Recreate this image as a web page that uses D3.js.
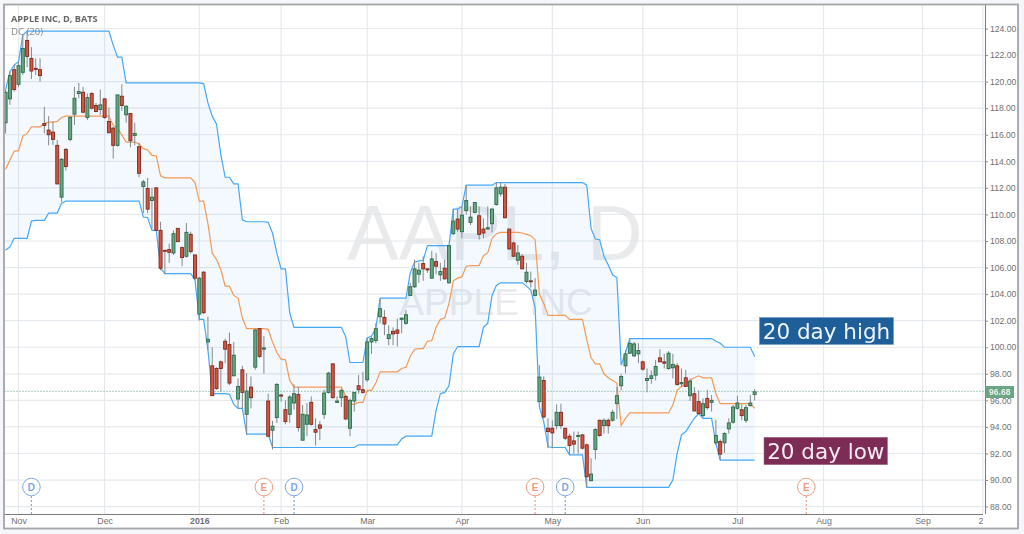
<!DOCTYPE html>
<html><head><meta charset="utf-8">
<script src="https://cdn.jsdelivr.net/npm/d3@7"></script>
<style>
html,body{margin:0;padding:0;background:#f4f6f9;overflow:hidden}
svg{display:block;filter:blur(0.4px)}
</style></head><body>
<svg id="c" width="1024" height="534"></svg>
<script>
const opens=[116.9,118.7,120.9,119.8,120.7,123.1,121.75,121,120.9,116.85,
116.35,116.2,115.2,111.3,114.9,115.65,117.55,119.1,119.2,117.3,
119.1,118.2,117.9,118.7,117,116.5,115.2,118.9,117.5,117.6,
115.95,115.1,112.1,111.95,111.05,112,108.8,107.3,107.35,107.1,
108.95,107.5,106.85,108.5,106.95,102.5,105.65,100.4,98.6,98.4,
98.9,100.45,100.2,97.85,96.1,98.3,94.95,97,98.5,101.4,
99.85,95.95,93.75,94.7,96.4,95.3,94.95,95.8,96.45,93,
94.2,95.85,93.8,94.15,94.95,96.6,98.75,95.85,96.2,96.3,
93.9,95.95,97.1,96.8,97.55,100.4,100.5,102.3,102.25,100.65,
101.2,101.3,102.1,101.8,103.9,104.55,105.5,106.3,105.9,105.2,
106.45,105.45,105.95,104.85,108.55,109.65,108.7,110.3,109.4,110.15,
109.9,108.9,108.9,109.3,110.75,111.55,112.05,108.9,107.85,106.55,
106.85,104.95,105,103.9,95.9,97.5,93.9,93.9,94.1,95.1,
93.9,93.3,92.95,93.3,93.4,92.65,89.95,92.3,94.5,94.1,
94.5,94.5,95.75,97.1,98.6,99.55,99.35,99.5,98.9,97.5,
97.65,97.9,99.2,98.9,98.4,98.45,98.6,97.25,97.7,96.35,
96.5,95.9,94.85,96.15,95.85,92.8,92.9,92.8,93.85,94.35,
95.4,95.3,94.5,95.6,96.45];
const closes=[119.2,120.45,119.4,121.2,122.5,121.9,120.8,120.95,120.45,116.7,
116,115.65,112.3,114.15,113.6,117.3,118.75,119.25,117.7,118.8,
118,117.75,118.25,117.3,116.15,115.2,119,118.2,118.15,115.55,
116.1,113.1,112.45,110.4,111.3,108.8,105.95,107.25,107.15,108.55,
107.95,106.75,108.65,107.2,105.2,105.2,102.6,100.6,96.35,96.9,
98.4,99.85,97.3,99.4,97.05,96.6,96.7,96.2,101.3,99.3,
99.95,93.3,94.05,97.2,96.35,94.4,96.25,96.5,93.95,94.95,
94.9,94.2,93.6,93.9,96.55,98.05,96.2,95.95,96.75,94.6,
96,96.6,96.8,96.6,100.4,100.65,101.4,102.9,101.75,100.95,
101,101.05,102.2,102.45,104.55,105.9,105.8,105.9,105.85,106.65,
106.1,105.7,105.15,107.65,109.5,108.9,109.95,111.05,109.8,110.9,
108.5,108.6,109,110.4,112,112.05,109.75,107.4,106.85,107.1,
105.9,105.65,104.98,104.3,97.75,94.75,93.65,93.55,95.1,94.1,
93.15,92.6,92.7,93.35,92.4,90.25,90.45,93.8,93.35,94.5,
94.1,95.1,96.35,97.8,99.5,100.3,100.25,99.75,98.35,97.65,
97.85,98.55,98.9,98.8,99.55,98.7,97.2,97.35,97.05,97.45,
95.2,95,95.75,95.45,96,93.35,91.95,93.5,94.3,95.5,
95.8,94.85,95.45,95.8,96.65];
const highs=[119.4,120.75,121.25,121.5,123.5,123.75,122.6,121.75,121.75,118.1,
117.4,117,115.6,114.25,115,117.4,119.6,119.9,119.6,119.1,
119.2,118.4,119.4,118.75,118.05,116.6,119,119.8,118.2,117.65,
116.9,115.4,112.6,112.75,112,112.05,109.45,107.3,107.8,108.8,
108.95,107.6,109.35,108.7,106.95,105.3,105.75,102.3,100,98.5,
99,100.65,101.1,100.4,97.65,98.6,98.05,97.8,101.4,101.4,
100.85,96.5,94.45,97.3,96.5,96,96.4,97.2,97,95.65,
95.8,96.3,94.65,94.45,96.8,98.15,98.75,96.3,96.9,96.4,
96.15,96.6,97.9,98.15,100.7,100.8,101.8,103.65,102.8,101.65,
101.5,102.15,102.2,102.8,104.85,106.6,106.35,106.85,105.95,107.25,
107.1,106.35,106.6,107.65,110.4,110.4,110.6,112.2,110.6,110.9,
110.6,109.7,110.6,110.5,112.4,112.4,112.3,108.9,107.95,107.7,
107,106.35,105.7,105.2,98.65,97.8,94.65,94.5,95.7,95.75,
93.9,93.5,93.65,93.65,93.45,92.75,91.65,93.9,94.55,94.65,
94.65,95.3,97,98,99.8,100.65,100.4,100.3,99,98.4,
98.25,99.05,99.85,99.5,99.7,99.5,98.8,98.4,98.3,97.65,
97,96.75,96.15,96.8,96.4,94.55,93.05,93.6,94.65,95.65,
96.35,95.7,95.65,96.4,96.85];
const lows=[116.1,118.25,119.25,119.6,120.5,121.1,120.2,120.5,120,116.1,
115.2,115.25,112.25,110.95,113.3,115.5,116.75,118.75,117.6,117.1,
117.9,117.7,117.5,117.2,116.1,114.2,115.1,117.8,116.9,115.05,
115.2,112.8,110.1,110.1,108.9,108.8,105.8,105.5,106.35,106.95,
107.95,106.1,106.75,107.05,105.05,102,102.5,99.8,96.35,96.8,
96.65,98.8,97.15,97.8,95.4,95.4,93.4,95.4,98.3,99.2,
98,93.3,92.3,94.3,95.9,94.2,94.3,95.3,93.65,93,
93.3,94.1,92.6,93,94.6,96.5,96.15,95.8,95.5,94.5,
93.3,95.15,96.5,96.5,97.4,99.5,100.3,101.8,100.9,100.15,
100.15,100.05,101.05,101.7,103.85,104.45,104.85,105,105.6,105.15,
105.5,105,105.1,104.8,108.45,108.7,108.2,110,109.2,110.1,
108.1,108.2,108.85,108.65,110.65,111.35,109.7,107.35,106.8,106.2,
105.9,104.8,104.5,103.85,95.9,94.65,92.4,92.4,93.8,93.85,
93,91.9,92,92,92.3,89.45,89.9,91.55,93.25,93.5,
93.5,94.4,94.6,96.75,98.05,99.5,99.25,98.8,98.25,96.6,
97.25,97.5,98.9,98.4,98.3,97.65,97.1,97,97,95.95,
95.2,94.95,94.7,95.3,95.15,92.65,91.5,92.05,93.5,94.25,
95.3,94.5,94.3,95.55,96];
const dcUpper=[119.4,120.75,121.25,121.5,123.5,123.8,123.8,123.8,123.8,123.8,
123.8,123.8,123.8,123.8,123.8,123.8,123.8,123.8,123.8,123.8,
123.8,123.8,123.8,123.8,123.8,122.75,121.85,121.85,119.9,119.9,
119.9,119.9,119.9,119.9,119.9,119.9,119.9,119.9,119.9,119.9,
119.9,119.9,119.9,119.9,119.9,119.9,119.85,118.4,117.4,116.8,
114.5,112.8,112.8,112.3,112.3,109.6,109.45,109.45,109.45,109.45,
109.45,109.4,108.6,107.1,105.9,105.9,102.6,101.5,101.5,101.5,
101.5,101.5,101.5,101.5,101.5,101.5,101.5,101.5,101.5,100.8,
98.85,98.85,98.85,98.85,100.7,100.85,101.4,103.7,103.7,103.7,
103.7,103.7,103.7,103.7,105.6,106.4,106.5,106.55,107.65,107.65,
107.65,107.65,107.65,107.65,110.4,110.4,110.6,112.2,112.2,112.2,
112.2,112.2,112.2,112.2,112.4,112.4,112.4,112.4,112.4,112.4,
112.4,112.4,112.4,112.4,112.4,112.4,112.4,112.4,112.4,112.4,
112.4,112.4,112.4,112.4,112.4,112.2,108.95,108.15,108.1,106.85,
106.2,105.45,105.25,98.65,99.6,100.65,100.65,100.65,100.65,100.65,
100.65,100.65,100.65,100.65,100.65,100.65,100.65,100.65,100.65,100.65,
100.65,100.65,100.65,100.65,100.65,100.45,100.3,100,100,100,
100,100,100,100,99.3];
const dcLower=[107.3,107.55,108.2,108.2,108.2,108.2,109.5,109.55,109.55,109.55,
110.1,110.1,110.1,110.85,111,111,111,111,111,111,
111,111,111,111,111,111,111,111,111,111,
111,111,109.8,109.75,108.8,108.8,105.95,105.55,105.55,105.55,
105.55,105.55,105.55,105.55,105.05,102.1,102.1,99.8,96.5,96.5,
96.5,96.5,96.45,95.7,95.4,95.4,93.45,93.45,93.45,93.45,
93.45,93.45,92.45,92.45,92.45,92.45,92.45,92.45,92.45,92.45,
92.45,92.45,92.45,92.45,92.45,92.45,92.45,92.45,92.45,92.45,
92.45,92.45,92.65,92.65,92.65,92.65,92.65,92.65,92.65,92.65,
92.65,92.65,93.1,93.3,93.3,93.3,93.3,93.3,93.3,93.3,
95.25,96.5,96.6,97.1,99.5,100.05,100.05,100.05,100.05,100.05,
100.05,101.5,101.8,103.9,104.65,104.85,104.85,104.85,104.85,104.85,
104.85,104.6,104.3,103,95.5,94.4,92.5,92.45,92.45,92.45,
92.45,91.9,91.9,91.9,91.9,89.45,89.45,89.45,89.45,89.45,
89.45,89.45,89.45,89.45,89.45,89.45,89.45,89.45,89.45,89.45,
89.45,89.45,89.45,89.45,89.45,90,92,93.4,93.65,94.15,
94.65,95,94.65,94.65,94.65,92.75,91.5,91.5,91.5,91.5,
91.5,91.5,91.5,91.5,91.5];
const dcBasis=[113.4,114.1,114.75,114.8,115.9,116.1,116.6,116.6,116.6,116.85,
116.95,116.95,117,117.3,117.4,117.4,117.4,117.4,117.4,117.4,
117.4,117.4,117.4,117.4,117.4,116.7,116.5,116,115.45,115.45,
115.45,115.3,114.95,114.85,114.45,114.4,112.9,112.75,112.75,112.75,
112.75,112.75,112.75,112.75,112.4,111,111,109.3,107.1,106.6,
105.85,104.6,104.6,103.9,103.7,102.2,101.4,101.4,101.4,101.4,
101.4,101.35,100.4,99.6,99.1,99.05,97.5,97,97,97,
97,97,97,97,97,97,97,97,97,96.3,
95.7,95.7,95.85,95.85,96.75,96.75,97.3,98.15,98.15,98.15,
98.15,98.15,98.4,98.5,99.3,99.85,99.9,99.9,100.45,100.5,
101.5,102.1,102.2,103.3,105,105.2,105.3,106.1,106.15,106.15,
106.15,106.9,107.1,108.2,108.55,108.65,108.65,108.65,108.65,108.65,
108.6,108.5,108.4,108.1,104,103.3,102.4,102.4,102.4,102.4,
102.4,102.1,102.1,102.1,102.1,100.55,99.2,98.75,98.75,98,
97.7,97.5,97.3,94.1,94.65,95.05,95.05,95.05,95.05,95.05,
95.05,95.05,95.05,95.05,95.05,95.65,96.75,97.05,97.2,97.5,
97.7,97.85,97.7,97.7,97.7,96.5,95.75,95.75,95.75,95.75,
95.75,95.75,95.75,95.75,95.4];
const priceTicks=[88,90,92,94,96,98,100,102,104,106,108,110,112,114,116,118,120,122,124];
const monthIndex=[3,23,45,64,84,106,127,148,170,190,213,227];
const monthLabels=["Nov","Dec","2016","Feb","Mar","Apr","May","Jun","Jul","Aug","Sep","21"];
const eventIndex=[6,60,67,123,130,186];
const eventLabels=["D","E","D","E","D","E"];
const lastPrice=96.68;
const titleText="APPLE INC, D, BATS";
const studyText="DC (20)";
const watermark="AAPL, D";
const watermarkSub="APPLE INC";
const noteHigh="20 day high";
const noteLow="20 day low";

const L=4.5,R=985,T=5,B=514;
const x=d3.scaleLinear().domain([0,227]).range([5.6,982.8]);
const y=d3.scaleLinear().domain([88,124]).range([506.6,28.5]);
const svg=d3.select("#c");
const defs=svg.append("defs");
defs.append("clipPath").attr("id","plot").append("rect").attr("x",L).attr("y",T).attr("width",R-L).attr("height",B-T);

svg.append("rect").attr("x",4).attr("y",4.5).attr("width",1014).attr("height",524).attr("fill","#fff");

const grid=svg.append("g").attr("clip-path","url(#plot)");
grid.selectAll("line.h").data(priceTicks).join("line").attr("class","h")
  .attr("x1",L).attr("x2",R).attr("y1",d=>y(d)).attr("y2",d=>y(d)).attr("stroke","#e6e9ed").attr("stroke-width",1.2);
grid.selectAll("line.v").data(monthIndex).join("line").attr("class","v")
  .attr("y1",T).attr("y2",B).attr("x1",d=>x(d)).attr("x2",d=>x(d)).attr("stroke","#e6e9ed").attr("stroke-width",1.2);

const wm=svg.append("g").attr("fill","#e4e5e7").attr("font-family","Liberation Sans");
wm.append("text").attr("x",495).attr("y",260).attr("text-anchor","middle").attr("font-size",77).attr("fill-opacity",.8).text(watermark);
wm.append("text").attr("x",496).attr("y",315).attr("text-anchor","middle").attr("font-size",37).attr("fill-opacity",.8).text(watermarkSub);

const idx=d3.range(opens.length);
const plot=svg.append("g").attr("clip-path","url(#plot)");
plot.append("path").attr("fill","rgba(33,150,243,0.055)")
  .attr("d",d3.area().x(i=>x(i)).y0(i=>y(dcLower[i])).y1(i=>y(dcUpper[i]))(idx));
const ln=arr=>d3.line().x(i=>x(i)).y(i=>y(arr[i]))(idx);
plot.append("path").attr("d",ln(dcUpper)).attr("fill","none").attr("stroke","#45a8f6").attr("stroke-width",1.2);
plot.append("path").attr("d",ln(dcLower)).attr("fill","none").attr("stroke","#45a8f6").attr("stroke-width",1.2);
plot.append("path").attr("d",ln(dcBasis)).attr("fill","none").attr("stroke","#f49a55").attr("stroke-width",1.2);

plot.selectAll("line.w").data(idx).join("line").attr("class","w")
  .attr("x1",i=>x(i)).attr("x2",i=>x(i))
  .attr("y1",i=>y(highs[i])).attr("y2",i=>y(lows[i])).attr("stroke","#85888a").attr("stroke-width",1);
plot.selectAll("rect.b").data(idx).join("rect").attr("class","b")
  .attr("x",i=>x(i)-1.5).attr("width",3)
  .attr("y",i=>y(Math.max(opens[i],closes[i])))
  .attr("height",i=>Math.max(1,Math.abs(y(opens[i])-y(closes[i]))))
  .attr("fill",i=>closes[i]>=opens[i]?"#6ba583":"#d75442")
  .attr("stroke",i=>closes[i]>=opens[i]?"#2a6a4a":"#7a2a1c").attr("stroke-width",.9);

svg.append("line").attr("x1",L).attr("x2",R).attr("y1",y(lastPrice)).attr("y2",y(lastPrice))
  .attr("stroke","#5f9c7a").attr("stroke-dasharray","1 2");

const ev=svg.append("g");
const evColor=l=>l==="D"?"#7fa9e3":"#ee9d84";
ev.selectAll("line").data(eventIndex).join("line")
  .attr("x1",d=>x(d)).attr("x2",d=>x(d)).attr("y1",496).attr("y2",B)
  .attr("stroke",(d,i)=>evColor(eventLabels[i])).attr("stroke-width",1.2).attr("stroke-dasharray","2 2");
ev.selectAll("circle").data(eventIndex).join("circle")
  .attr("cx",d=>x(d)).attr("cy",487).attr("r",8.8).attr("fill","#fff")
  .attr("stroke",(d,i)=>evColor(eventLabels[i]));
ev.selectAll("text").data(eventIndex).join("text")
  .attr("x",d=>x(d)).attr("y",490.5).attr("text-anchor","middle")
  .attr("font-family","Liberation Sans").attr("font-weight","bold").attr("font-size",10)
  .attr("fill",(d,i)=>evColor(eventLabels[i])).text((d,i)=>eventLabels[i]);

const ax=svg.append("g").attr("transform",`translate(${R},0)`)
  .call(d3.axisRight(y).tickValues(priceTicks).tickFormat(d3.format(".2f")).tickSize(3).tickPadding(2));
ax.selectAll("text").attr("font-family","Liberation Sans").attr("font-size",8.6).attr("fill","#6f6f6f");
ax.selectAll("line").attr("stroke","#888");
ax.select(".domain").attr("d",`M0.5,${T}V${B}`).attr("stroke","#7a7a7a");

defs.append("clipPath").attr("id","xlab").append("rect").attr("x",L).attr("y",0).attr("width",983-L).attr("height",14);
const bx=svg.append("g").attr("transform",`translate(0,${B})`)
  .call(d3.axisBottom(x).tickValues(monthIndex).tickFormat((d,i)=>monthLabels[i]).tickSize(0).tickPadding(4))
  .attr("clip-path","url(#xlab)");
bx.selectAll("text").attr("font-family","Liberation Sans").attr("font-size",8.8).attr("fill","#707070")
  .attr("font-weight",d=>d===45?"bold":"normal");
bx.select(".domain").attr("d",`M${L},0.5H${R}`).attr("stroke","#7a7a7a");

svg.append("rect").attr("x",985.5).attr("y",386).attr("width",28.5).attr("height",12).attr("fill","#6ba583");
svg.append("text").attr("x",999.8).attr("y",395).attr("text-anchor","middle").attr("font-family","Liberation Sans")
  .attr("font-size",8.6).attr("font-weight","bold").attr("fill","#e9f2ec").text(d3.format(".2f")(lastPrice));

svg.append("text").attr("x",11).attr("y",21.5).attr("font-family","Open Sans").attr("font-weight","bold")
  .attr("font-size",9.2).attr("fill","#666").text(titleText);
svg.append("text").attr("x",11).attr("y",34.5).attr("font-family","Open Sans")
  .attr("font-size",9.6).attr("fill","#8a8a8a").text(studyText);

svg.append("rect").attr("x",759.5).attr("y",317.5).attr("width",134).attr("height",27).attr("fill","#1f5f99").attr("stroke","#6d9ac2").attr("stroke-width",.6);
svg.append("text").attr("x",826.5).attr("y",339).attr("text-anchor","middle").attr("font-family","DejaVu Sans").attr("font-size",21.5).attr("fill","#eef4fa").text(noteHigh);
svg.append("rect").attr("x",764).attr("y",437.3).attr("width",123.5).attr("height",27.4).attr("fill","#7d2c55").attr("stroke","#a9708c").attr("stroke-width",.6);
svg.append("text").attr("x",825.8).attr("y",458.5).attr("text-anchor","middle").attr("font-family","DejaVu Sans").attr("font-size",21.5).attr("fill","#f6edf2").text(noteLow);

svg.append("rect").attr("x",4).attr("y",4.5).attr("width",1014).attr("height",524).attr("fill","none").attr("stroke","#a3a5a8").attr("stroke-width",1.8);
</script></body></html>
